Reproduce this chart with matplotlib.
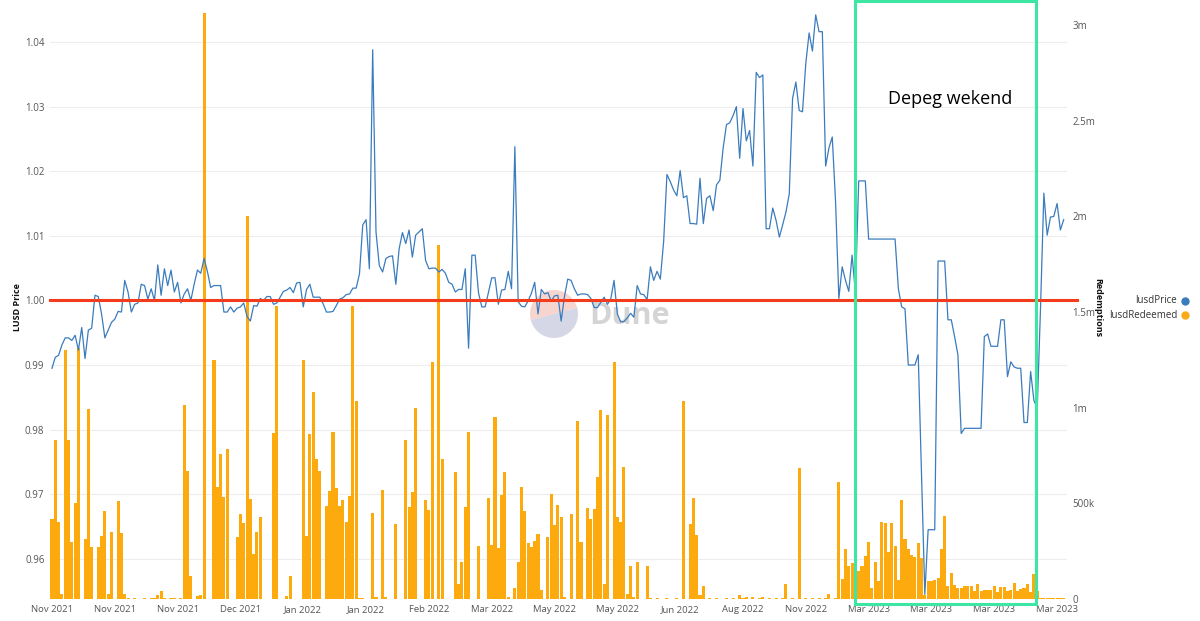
### LUSD price vs redemptions (Dune screenshot remake)
import numpy as np
import matplotlib
matplotlib.use('Agg')
import matplotlib.pyplot as plt
from matplotlib.patches import Rectangle, Wedge
from matplotlib.lines import Line2D
from matplotlib.transforms import IdentityTransform

plt.rcParams['font.family'] = ['Open Sans', 'DejaVu Sans']

# daily redemptions, thousands of LUSD
redeemed_k = [
    420, 830, 400, 25, 1300, 830, 300, 500, 1310, 0,
    315, 995, 270, 0, 270, 330, 460, 25, 350, 0,
    510, 345, 25, 5, 0, 5, 0, 0, 5, 0,
    5, 5, 20, 40, 5, 0, 5, 5, 0, 5,
    1015, 670, 120, 0, 15, 20, 3060, 0, 0, 1250,
    585, 760, 535, 785, 0, 0, 325, 445, 395, 2000,
    525, 235, 350, 430, 0, 0, 0, 865, 1530, 0,
    0, 15, 120, 0, 0, 0, 1250, 330, 860, 1080,
    730, 670, 0, 487, 565, 875, 580, 487, 518, 403,
    540, 1530, 1035, 5, 5, 0, 0, 450, 10, 0,
    570, 10, 0, 0, 390, 0, 0, 830, 480, 560,
    1000, 0, 0, 518, 466, 1240, 0, 1850, 733, 0,
    0, 0, 665, 80, 195, 480, 875, 0, 0, 275,
    0, 0, 530, 280, 950, 265, 545, 665, 10, 0,
    60, 195, 585, 460, 290, 270, 305, 340, 45, 0,
    325, 550, 385, 490, 430, 10, 0, 445, 0, 930,
    300, 0, 475, 420, 470, 640, 990, 80, 960, 0,
    1240, 430, 400, 690, 25, 175, 10, 195, 0, 0,
    175, 5, 0, 5, 0, 0, 5, 0, 0, 5,
    0, 1035, 0, 390, 530, 335, 20, 70, 0, 5,
    0, 5, 0, 0, 5, 0, 5, 0, 20, 5,
    10, 0, 10, 0, 5, 10, 0, 5, 0, 5,
    0, 5, 80, 0, 5, 0, 685, 0, 5, 0,
    5, 0, 5, 0, 5, 25, 0, 5, 610, 105,
    260, 170, 190, 695, 145, 175, 225, 300, 55, 195,
    95, 400, 395, 245, 395, 275, 100, 515, 315, 260,
    230, 220, 295, 215, 20, 95, 95, 100, 110, 260,
    435, 70, 135, 75, 60, 60, 70, 70, 70, 40,
    80, 40, 45, 45, 45, 70, 35, 65, 65, 40,
    45, 85, 40, 50, 60, 80, 35, 130, 40, 5,
    5, 5, 5, 5, 5, 5, 5,
]

lusd_price = [
    0.9895, 0.9912, 0.9915, 0.9931, 0.9942, 0.9942, 0.9938, 0.9946, 0.9923, 0.9958,
    0.9910, 0.9954, 0.9957, 1.0008, 1.0006, 0.9979, 0.9942, 0.9954, 0.9966, 0.9971,
    0.9983, 0.9982, 1.0031, 1.0013, 0.9982, 0.9994, 0.9996, 1.0025, 1.0023, 1.0002,
    1.0018, 1.0000, 1.0055, 1.0008, 1.0049, 1.0023, 1.0047, 1.0013, 1.0028, 0.9996,
    1.0010, 1.0018, 1.0000, 1.0025, 1.0047, 1.0042, 1.0065, 1.0045, 1.0020, 1.0023,
    1.0023, 1.0023, 0.9982, 0.9982, 0.9990, 0.9982, 0.9988, 0.9990, 0.9996, 0.9975,
    0.9968, 0.9992, 0.9991, 1.0003, 1.0000, 1.0006, 1.0006, 0.9994, 0.9996, 1.0005,
    1.0014, 1.0016, 1.0020, 1.0012, 1.0027, 1.0028, 0.9990, 1.0017, 1.0025, 1.0005,
    1.0005, 1.0005, 0.9995, 0.9982, 0.9982, 0.9983, 0.9992, 1.0002, 1.0004, 1.0009,
    1.0010, 1.0019, 1.0019, 1.0041, 1.0117, 1.0125, 1.0049, 1.0388, 1.0106, 1.0054,
    1.0044, 1.0065, 1.0068, 1.0069, 1.0025, 1.0080, 1.0105, 1.0088, 1.0109, 1.0067,
    1.0101, 1.0106, 1.0111, 1.0062, 1.0049, 1.0050, 1.0050, 1.0044, 1.0048, 1.0042,
    1.0028, 1.0025, 1.0013, 1.0017, 1.0017, 1.0049, 0.9926, 1.0070, 1.0070, 1.0012,
    0.9990, 0.9990, 1.0012, 1.0035, 1.0035, 0.9994, 1.0016, 1.0017, 1.0045, 1.0018,
    1.0238, 0.9998, 0.9991, 0.9990, 0.9999, 1.0011, 1.0028, 0.9979, 1.0017, 1.0010,
    1.0012, 0.9999, 1.0007, 1.0008, 0.9968, 1.0006, 1.0033, 1.0031, 1.0018, 1.0008,
    1.0010, 1.0010, 1.0009, 1.0003, 0.9989, 0.9989, 0.9997, 1.0005, 0.9994, 1.0002,
    1.0031, 0.9979, 0.9967, 0.9967, 0.9973, 0.9980, 0.9974, 1.0023, 1.0010, 1.0009,
    1.0001, 1.0052, 1.0031, 1.0045, 1.0033, 1.0091, 1.0195, 1.0184, 1.0171, 1.0162,
    1.0201, 1.0159, 1.0162, 1.0119, 1.0119, 1.0118, 1.0189, 1.0119, 1.0158, 1.0162,
    1.0139, 1.0179, 1.0186, 1.0236, 1.0272, 1.0275, 1.0286, 1.0300, 1.0220, 1.0297,
    1.0247, 1.0263, 1.0208, 1.0353, 1.0345, 1.0349, 1.0111, 1.0111, 1.0143, 1.0124,
    1.0098, 1.0117, 1.0137, 1.0165, 1.0313, 1.0338, 1.0294, 1.0292, 1.0367, 1.0414,
    1.0386, 1.0442, 1.0416, 1.0416, 1.0208, 1.0236, 1.0253, 1.0153, 1.0003, 1.0052,
    1.0031, 1.0014, 1.0070, 1.0012, 1.0185, 1.0185, 1.0185, 1.0095, 1.0095, 1.0095,
    1.0095, 1.0095, 1.0095, 1.0095, 1.0095, 1.0095, 1.0018, 0.9990, 0.9987, 0.9900,
    0.9900, 0.9900, 0.9916, 0.9728, 0.9545, 0.9645, 0.9645, 0.9645, 1.0061, 1.0061,
    1.0061, 0.9970, 0.9970, 0.9944, 0.9916, 0.9794, 0.9802, 0.9802, 0.9802, 0.9802,
    0.9802, 0.9802, 0.9944, 0.9948, 0.9929, 0.9929, 0.9929, 0.9970, 0.9970, 0.9882,
    0.9905, 0.9897, 0.9895, 0.9895, 0.9811, 0.9811, 0.9890, 0.9845, 0.9833, 0.9990,
    1.0166, 1.0101, 1.0129, 1.0130, 1.0150, 1.0109, 1.0125,
]

date_labels = ['Nov 2021', 'Nov 2021', 'Nov 2021', 'Dec 2021', 'Jan 2022', 'Jan 2022',
               'Feb 2022', 'Mar 2022', 'May 2022', 'May 2022', 'Jun 2022', 'Aug 2022',
               'Nov 2022', 'Mar 2023', 'Mar 2023', 'Mar 2023', 'Mar 2023']
label_every = 19
price_ticks = [0.96, 0.97, 0.98, 0.99, 1.00, 1.01, 1.02, 1.03, 1.04]
redeem_ticks = [0, 500000, 1000000, 1500000, 2000000, 2500000, 3000000]
redeem_tick_labels = ['0', '500k', '1m', '1.5m', '2m', '2.5m', '3m']

W, H = 1200, 621
fig = plt.figure(figsize=(W / 100, H / 100), dpi=100)
ax = fig.add_axes([50 / W, 1 - 601 / H, 1017 / W, 596 / H])
ax2 = ax.twinx()

x = np.arange(len(lusd_price))

# bars (right axis) drawn underneath the price line
for v in price_ticks:
    ax2.plot([0, 1], [v, v], transform=ax.get_yaxis_transform(), color='#ededed',
             lw=0.8, zorder=0)
ax2.bar(x, np.array(redeemed_k) * 1000, width=0.92, color='#fdaa0f', zorder=2)
ax2.set_ylim(-10500, 3104000)
ax2.set_yticks(redeem_ticks)
ax2.set_yticklabels(redeem_tick_labels)
ax2.tick_params(axis='y', length=0, pad=4, labelsize=7, labelcolor='#555555')

ax.set_zorder(ax2.get_zorder() + 1)
ax.patch.set_visible(False)
ax.plot(x, lusd_price, color='#3a7cbd', lw=0.9, zorder=3)
ax.add_line(Line2D([0, 1.0098], [1.0, 1.0], transform=ax.get_yaxis_transform(),
                   color='#f23c1c', lw=2.2, clip_on=False, zorder=5))
ax.set_ylim(0.95347, 1.04573)
ax.set_xlim(-0.6, 307.0)
ax.set_yticks(price_ticks)
ax.set_yticklabels(['%.2f' % v for v in price_ticks])
ax.set_xticks(np.arange(0, len(lusd_price), label_every))
ax.set_xticklabels(date_labels)
ax.tick_params(axis='y', length=0, pad=4, labelsize=7, labelcolor='#555555')
ax.tick_params(axis='x', length=0, pad=3, labelsize=6.8, labelcolor='#555555')
for a in (ax, ax2):
    for s in a.spines.values():
        s.set_visible(False)

# axis titles
fig.text(18 / W, 1 - 307 / H, 'LUSD Price', rotation=90, fontsize=6.5, fontweight='bold',
         ha='center', va='center', color='#111111')
fig.text(1098 / W, 1 - 308 / H, 'Redemptions', rotation=270, fontsize=6.5, fontweight='bold',
         ha='center', va='center', color='#111111')

# legend on the right
for name, col, yy in [('lusdPrice', '#3a7cbd', 301), ('lusdRedeemed', '#fbaa17', 315)]:
    fig.text(1177 / W, 1 - yy / H, name, fontsize=7, ha='right', va='center', color='#333333')
    fig.add_artist(Line2D([1185 / W], [1 - yy / H], marker='o', ms=5, color=col,
                          transform=fig.transFigure))

# Dune watermark
cx, cy, r = 554, H - 314, 24
fig.add_artist(Wedge((cx, cy), r, 15, 195, transform=IdentityTransform(),
                     facecolor='#f5c4bb', alpha=0.7, edgecolor='none', zorder=0))
fig.add_artist(Wedge((cx, cy), r, 195, 375, transform=IdentityTransform(),
                     facecolor='#c4c6dc', alpha=0.7, edgecolor='none', zorder=0))
fig.text(630 / W, 1 - 316 / H, 'Dune', fontsize=22, fontweight='bold', color='#d4d4d4',
         ha='center', va='center', zorder=0)

# annotation box
fig.add_artist(Rectangle((855 / W, 1 - 604 / H), 181 / W, 603 / H, transform=fig.transFigure,
                         fill=False, edgecolor='#3ee6a4', lw=2.2, zorder=10))
fig.text(950 / W, 1 - 99 / H, 'Depeg wekend', fontsize=13, color='black',
         ha='center', va='center')

fig.savefig('out.png', dpi=100)
